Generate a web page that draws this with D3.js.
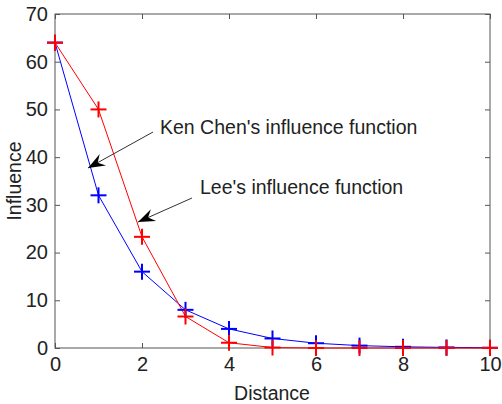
<!DOCTYPE html>
<html><head><meta charset="utf-8">
<script src="https://cdn.jsdelivr.net/npm/d3@7"></script>
<style>body{margin:0;background:#fff}svg{display:block}text{font-family:"Liberation Sans",Arial,sans-serif;fill:#222}</style>
</head><body>
<script>
const distance = [0,1,2,3,4,5,6,7,8,9,10];
const kenChen = [64,32,16,8,4,2,1,0.5,0.25,0.125,0.0625];
const lee = [64,50,23.3,6.6,1.1,0.1,0,0,0,0,0];
const xTicks = [0,2,4,6,8,10];
const yTicks = [0,10,20,30,40,50,60,70];
const annotations = [
  {text:"Ken Chen's influence function"},
  {text:"Lee's influence function"}
];

const W=502,H=404, L=55, R=490, T=14, B=348;
const svg=d3.select("body").append("svg").attr("width",W).attr("height",H);
const x=d3.scaleLinear().domain([0,10]).range([L,R]);
const y=d3.scaleLinear().domain([0,70]).range([B,T]);

svg.append("rect").attr("x",L).attr("y",T).attr("width",R-L).attr("height",B-T)
  .attr("fill","none").attr("stroke","#555").attr("stroke-width",1);
const xa=svg.append("g").attr("transform",`translate(0,${B})`)
  .call(d3.axisBottom(x).tickValues(xTicks).tickSizeInner(-5).tickSizeOuter(0).tickPadding(9));
const xt=svg.append("g").attr("transform",`translate(0,${T})`)
  .call(d3.axisTop(x).tickValues(xTicks).tickSizeInner(-5).tickSizeOuter(0).tickFormat(""));
const ya=svg.append("g").attr("transform",`translate(${L},0)`)
  .call(d3.axisLeft(y).tickValues(yTicks).tickSizeInner(-5).tickSizeOuter(0).tickPadding(7));
const yr=svg.append("g").attr("transform",`translate(${R},0)`)
  .call(d3.axisRight(y).tickValues(yTicks).tickSizeInner(-5).tickSizeOuter(0).tickFormat(""));
[xa,xt,ya,yr].forEach(g=>{g.select(".domain").remove();g.selectAll("line").attr("stroke","#555");
  g.selectAll("text").style("font-size","20px").attr("fill","#222").style("font-family","Liberation Sans, Arial, sans-serif");});
xa.selectAll("text").attr("dy","0.71em");

const pts=(vals)=>distance.map((d,i)=>[d,vals[i]]);
const line=d3.line().x(d=>x(d[0])).y(d=>y(d[1]));
svg.append("path").attr("d",line(pts(kenChen))).attr("fill","none").attr("stroke","#0000ff").attr("stroke-width",1);
svg.append("path").attr("d",line(pts(lee))).attr("fill","none").attr("stroke","#ff0000").attr("stroke-width",1);
function plus(vals,color){
  const g=svg.append("g");
  pts(vals).forEach(p=>{
    const cx=x(p[0]),cy=y(p[1]);
    g.append("line").attr("x1",cx-8).attr("x2",cx+8).attr("y1",cy).attr("y2",cy).attr("stroke",color).attr("stroke-width",2);
    g.append("line").attr("x1",cx).attr("x2",cx).attr("y1",cy-8).attr("y2",cy+8).attr("stroke",color).attr("stroke-width",2);
  });
}
plus(kenChen,"#0000ff");
plus(lee,"#ff0000");

function arrow(x1,y1,x2,y2){
  svg.append("line").attr("x1",x1).attr("y1",y1).attr("x2",x2).attr("y2",y2).attr("stroke","#333").attr("stroke-width",1);
  const a=Math.atan2(y2-y1,x2-x1), len=17, w=6.5, back=11;
  const ux=Math.cos(a),uy=Math.sin(a),px=-uy,py=ux;
  const p1=[x2,y2], p2=[x2-len*ux+w*px, y2-len*uy+w*py], p3=[x2-back*ux, y2-back*uy], p4=[x2-len*ux-w*px, y2-len*uy-w*py];
  svg.append("path").attr("d",`M${p1}L${p2}L${p3}L${p4}Z`).attr("fill","#000");
}
arrow(153,132,88,168);
arrow(192,198,138,222);
svg.append("text").attr("x",160).attr("y",134).style("font-size","19.5px").text(annotations[0].text);
svg.append("text").attr("x",200).attr("y",194).style("font-size","19.5px").text(annotations[1].text);

svg.append("text").attr("x",272).attr("y",400).attr("text-anchor","middle").style("font-size","19.5px").text("Distance");
svg.append("text").attr("transform","translate(21,181) rotate(-90)").attr("text-anchor","middle").style("font-size","19.5px").text("Influence");
</script>
</body></html>
